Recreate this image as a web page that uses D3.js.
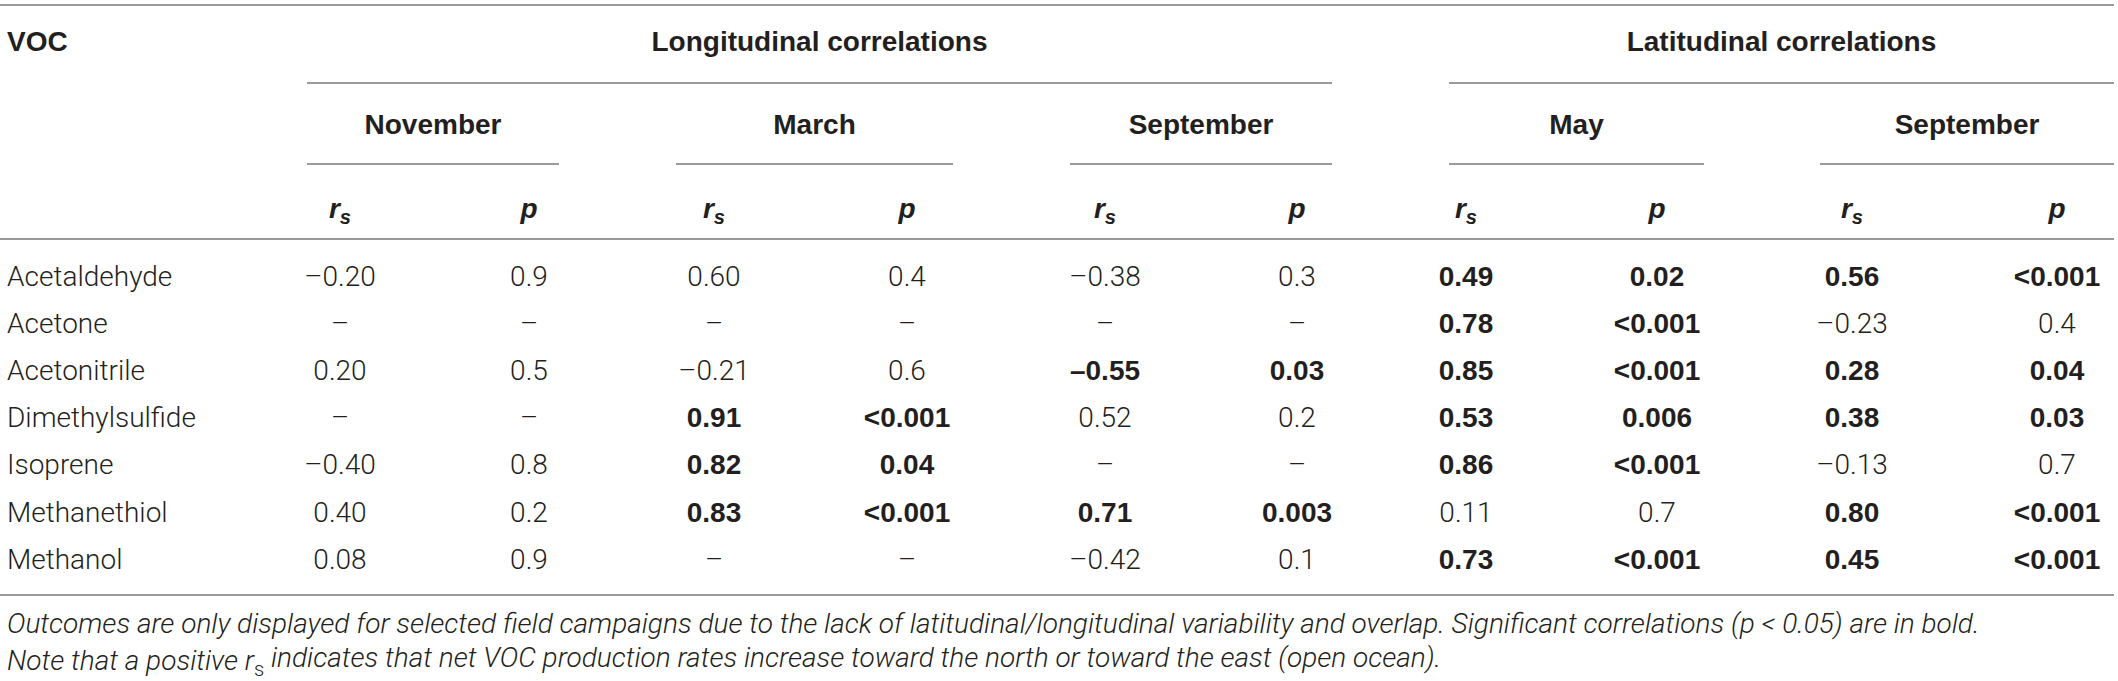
<!DOCTYPE html>
<html>
<head>
<meta charset="utf-8">
<script src="https://cdn.jsdelivr.net/npm/d3@7"></script>
<style>
  html, body { margin: 0; padding: 0; background: #fff; }
  svg { display: block; }
  .light { font-family: "Roboto", "Liberation Sans", sans-serif; font-weight: 300; fill: #231f20; }
  .bold { font-family: "Liberation Sans", "Roboto", sans-serif; font-weight: 700; fill: #231f20; }
  .rule { stroke: #9a9a9a; stroke-width: 2; }
</style>
</head>
<body>
<svg id="chart" width="2118" height="681"></svg>
<script>
// ---------------- data ----------------
const vocs = ["Acetaldehyde", "Acetone", "Acetonitrile", "Dimethylsulfide", "Isoprene", "Methanethiol", "Methanol"];
const groups = ["Longitudinal correlations", "Latitudinal correlations"];
const campaigns = ["November", "March", "September", "May", "September"];
const statLabels = ["r", "p"];

const novRs = ["–0.20", "–", "0.20", "–", "–0.40", "0.40", "0.08"];
const novP  = ["0.9", "–", "0.5", "–", "0.8", "0.2", "0.9"];
const marRs = ["0.60", "–", "–0.21", "0.91", "0.82", "0.83", "–"];
const marP  = ["0.4", "–", "0.6", "<0.001", "0.04", "<0.001", "–"];
const sepLonRs = ["–0.38", "–", "–0.55", "0.52", "–", "0.71", "–0.42"];
const sepLonP  = ["0.3", "–", "0.03", "0.2", "–", "0.003", "0.1"];
const mayRs = ["0.49", "0.78", "0.85", "0.53", "0.86", "0.11", "0.73"];
const mayP  = ["0.02", "<0.001", "<0.001", "0.006", "<0.001", "0.7", "<0.001"];
const sepLatRs = ["0.56", "–0.23", "0.28", "0.38", "–0.13", "0.80", "0.45"];
const sepLatP  = ["<0.001", "0.4", "0.04", "0.03", "0.7", "<0.001", "<0.001"];

const footnote1 = "Outcomes are only displayed for selected field campaigns due to the lack of latitudinal/longitudinal variability and overlap. Significant correlations (p < 0.05) are in bold.";
const footnote2a = "Note that a positive r";
const footnote2b = " indicates that net VOC production rates increase toward the north or toward the east (open ocean).";

// ---------------- layout ----------------
const rsCols = [novRs, marRs, sepLonRs, mayRs, sepLatRs];
const pCols = [novP, marP, sepLonP, mayP, sepLatP];
const svg = d3.select("#chart");

const colKeys = [];
campaigns.forEach((c, i) => { colKeys.push(i + "r"); colKeys.push(i + "p"); });
const x = d3.scaleOrdinal().domain(colKeys)
  .range([340, 529, 714, 907, 1105, 1297, 1466, 1657, 1852, 2057]);
const campaignSpan = d3.scaleOrdinal().domain(d3.range(campaigns.length))
  .range([[307, 559], [676, 953], [1070, 1332], [1449, 1704], [1820, 2114]]);
const groupSpan = d3.scaleOrdinal().domain([0, 1]).range([[307, 1332], [1449, 2114]]);
const y = d3.scalePoint().domain(vocs).range([276, 559]);
const hy = d3.scaleOrdinal().domain(["top", "group", "groupRule", "campaign", "campaignRule", "stat", "headRule", "bottomRule", "foot1", "foot2"])
  .range([5, 41, 83, 124, 164, 208, 239, 595, 623, 660]);

const FS = 28;
const isSig = p => { if (p === "–") return false; const v = parseFloat(p.replace("<", "")); return v < 0.05; };

// rules
function rule(x1, x2, yy) {
  svg.append("line").attr("class", "rule").attr("x1", x1).attr("x2", x2).attr("y1", yy).attr("y2", yy);
}
rule(0, 2114, hy("top"));
rule(0, 2114, hy("headRule"));
rule(0, 2114, hy("bottomRule"));
groups.forEach((g, i) => rule(groupSpan(i)[0], groupSpan(i)[1], hy("groupRule")));
campaigns.forEach((c, i) => rule(campaignSpan(i)[0], campaignSpan(i)[1], hy("campaignRule")));

// header texts
svg.append("text").attr("class", "bold").attr("x", 7).attr("y", hy("group")).attr("dy", "0.35em")
  .attr("font-size", FS).text("VOC");
svg.selectAll("text.group").data(groups).join("text").attr("class", "bold group")
  .attr("x", (d, i) => (groupSpan(i)[0] + groupSpan(i)[1]) / 2)
  .attr("y", hy("group")).attr("dy", "0.35em").attr("text-anchor", "middle")
  .attr("font-size", FS).text(d => d);
svg.selectAll("text.campaign").data(campaigns).join("text").attr("class", "bold campaign")
  .attr("x", (d, i) => (campaignSpan(i)[0] + campaignSpan(i)[1]) / 2)
  .attr("y", hy("campaign")).attr("dy", "0.35em").attr("text-anchor", "middle")
  .attr("font-size", FS).text(d => d);

// stat labels
colKeys.forEach(k => {
  const t = svg.append("text").attr("class", "bold").attr("x", x(k)).attr("y", hy("stat")).attr("dy", "0.35em")
    .attr("text-anchor", "middle").attr("font-size", FS).attr("font-style", "italic");
  if (k.endsWith("r")) {
    t.append("tspan").text(statLabels[0]);
    t.append("tspan").attr("font-size", FS * 0.72).attr("dy", "0.3em").text("s");
  } else {
    t.text(statLabels[1]);
  }
});

// VOC names
svg.selectAll("text.voc").data(vocs).join("text").attr("class", "light voc")
  .attr("x", 7).attr("y", d => y(d)).attr("dy", "0.35em").attr("font-size", FS).text(d => d);

// cells
campaigns.forEach((c, i) => {
  vocs.forEach((v, j) => {
    const sig = isSig(pCols[i][j]);
    [[i + "r", rsCols[i][j]], [i + "p", pCols[i][j]]].forEach(([k, val]) => {
      svg.append("text").attr("class", sig ? "bold" : "light")
        .attr("x", x(k)).attr("y", y(v)).attr("dy", "0.35em").attr("text-anchor", "middle")
        .attr("font-size", FS).text(val);
    });
  });
});

// footnotes (font size fitted so the first line spans the table width like the reference)
const f1 = svg.append("text").attr("class", "light").attr("x", 7).attr("y", hy("foot1")).attr("dy", "0.35em")
  .attr("font-size", 26).attr("font-style", "italic").text(footnote1);
const measured = f1.node().getComputedTextLength();
const footFS = Math.max(24, Math.min(28, 26 * 2094 / measured));
f1.attr("font-size", footFS);
const f2 = svg.append("text").attr("class", "light").attr("x", 7).attr("y", hy("foot2")).attr("dy", "0.35em")
  .attr("font-size", footFS).attr("font-style", "italic");
f2.append("tspan").text(footnote2a);
f2.append("tspan").attr("font-style", "normal").attr("font-size", footFS * 0.72).attr("dy", "0.3em").text("s");
f2.append("tspan").attr("dy", "-0.3em").text(footnote2b);
</script>
</body>
</html>
